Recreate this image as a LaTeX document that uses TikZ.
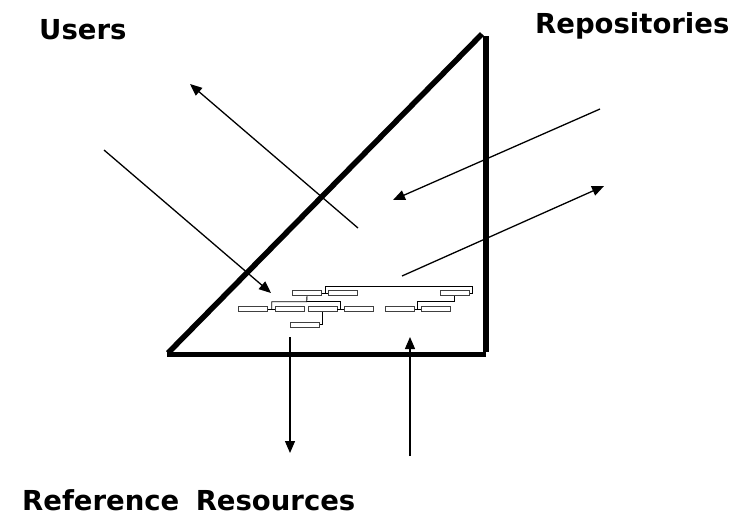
\documentclass[tikz,border=0pt]{standalone}
\usepackage{fontspec}
\setmainfont{DejaVu Sans}
\usetikzlibrary{arrows.meta}

\begin{document}
\begin{tikzpicture}[
    x=1pt,y=-1pt,
    heading/.style={
      font=\fontsize{27.5}{30}\selectfont\bfseries,inner sep=0pt,
      anchor=base west
    },
    flow/.style={
      line width=1.3pt,-{Triangle[length=12pt,width=10pt]}
    },
    orgbox/.style={
      draw=black!75,fill=white,line width=0.9pt,
      minimum width=29pt,minimum height=5pt,inner sep=0pt
    },
    orglink/.style={
      line width=0.9pt
    }]

  \useasboundingbox (0,0) rectangle (752,523);

  % labels
  \node[heading] (users) at (39,39) {Users};
  \node[heading] (repos) at (535,33.3) {Repositories};
  \node[heading] (refs) at (22,510) {Reference\hspace{0.25em} Resources};

  % the triangle
  \coordinate (apex) at (482,34);
  \coordinate (corner) at (486,354.5);
  \coordinate (base) at (167,354.5);
  \draw[line width=5.5pt] (168,353) -- (apex);
  \draw[line width=5.5pt] (486,36) -- (486,352);
  \draw[line width=5.5pt] (base) -- (corner);

  % arrows
  \coordinate (u1) at (358,228);
  \coordinate (u2) at (190,84);
  \coordinate (u3) at (104,150);
  \coordinate (u4) at (271,293);
  \draw[flow] (u1) -- (u2);
  \draw[flow] (u3) -- (u4);

  \coordinate (r1) at (600,109);
  \coordinate (r2) at (393,200);
  \coordinate (r3) at (402,276);
  \coordinate (r4) at (604,186);
  \draw[flow] (r1) -- (r2);
  \draw[flow] (r3) -- (r4);

  \coordinate (f1) at (290,337);
  \coordinate (f2) at (290,453);
  \coordinate (f3) at (410,456);
  \coordinate (f4) at (410,337);
  \draw[flow] (f1) -- (f2);
  \draw[flow] (f3) -- (f4);

  % small org chart
  \node[orgbox] (top) at (307,293.2) {};
  \node[orgbox] (topr) at (343,293.2) {};
  \node[orgbox] (far) at (454.6,293.2) {};
  \node[orgbox] (m1) at (253.3,309.2) {};
  \node[orgbox] (m2) at (289.6,309.2) {};
  \node[orgbox] (m3) at (322.5,309.2) {};
  \node[orgbox] (m4) at (359.1,309.2) {};
  \node[orgbox] (m5) at (399.6,309.2) {};
  \node[orgbox] (m6) at (435.5,309.2) {};
  \node[orgbox] (low) at (305,324.8) {};

  \draw[orglink] (top.east) -- (topr.west);
  \draw[orglink] (325.7,293.2) |- (472.7,286) |- (far.east);
  \draw[orglink] (top.south) -- (306.7,301.7) -| (271.7,309.2);
  \draw[orglink] (306.7,301.7) -| (340.8,309.2);
  \draw[orglink] (m1.east) -- (m2.west);
  \draw[orglink] (m3.east) -- (m4.west);
  \draw[orglink] (m3.south) |- (low.east);
  \draw[orglink] (far.south) |- (417.8,301.2) -- (417.8,309.2);
  \draw[orglink] (m5.east) -- (m6.west);
\end{tikzpicture}
\end{document}
